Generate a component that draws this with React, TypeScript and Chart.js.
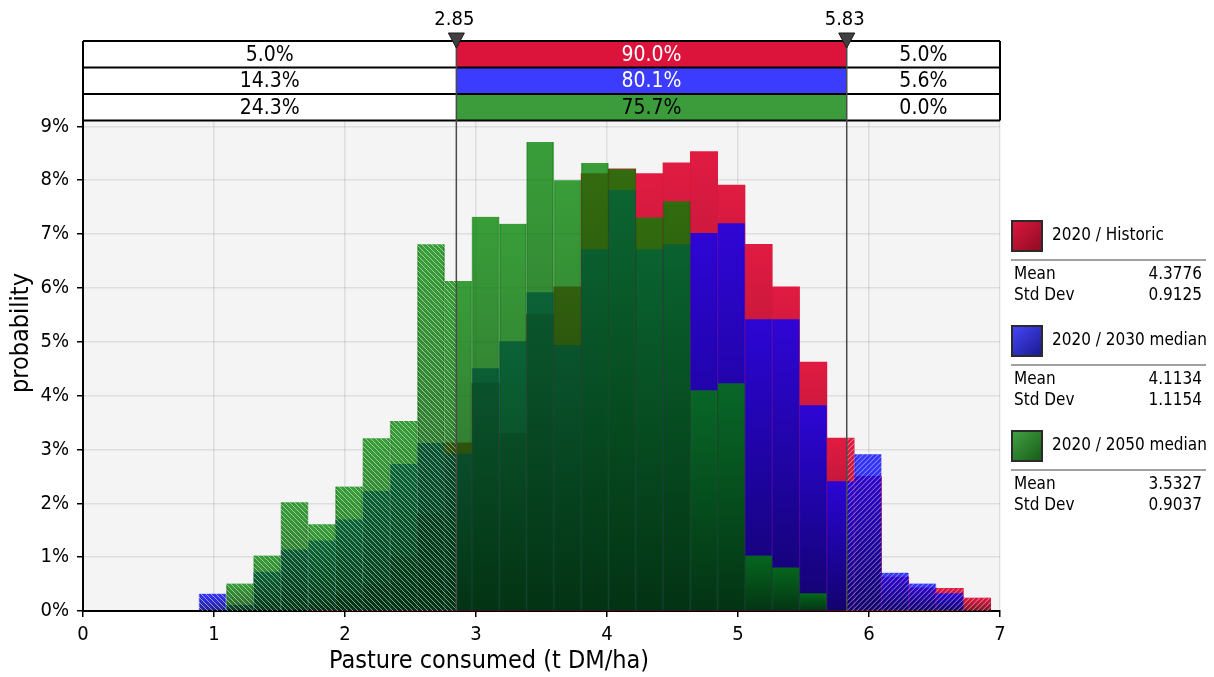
import React, { useEffect, useRef } from 'react';
import { Chart, registerables } from 'chart.js';

Chart.register(...registerables);

// ---- data ----
const binEdges = [
  0.885, 1.093, 1.302, 1.510, 1.719, 1.927, 2.135, 2.344, 2.552, 2.761,
  2.969, 3.177, 3.386, 3.594, 3.803, 4.011, 4.219, 4.428, 4.636, 4.845,
  5.053, 5.261, 5.470, 5.678, 5.887, 6.095, 6.303, 6.512, 6.720, 6.929,
];
// probability (%) per bin
const historic = [
  null, null, null, null, 0.1, 0.3, 0.5, 1.0, 1.8, 3.12,
  4.23, 3.30, 5.51, 6.02, 8.12, 8.21, 8.12, 8.32, 8.53, 7.91,
  6.81, 6.02, 4.62, 3.21, 2.50, 0.63, 0.43, 0.42, 0.24,
];
const median2030 = [
  0.32, 0.11, 0.73, 1.14, 1.31, 1.70, 2.23, 2.73, 3.12, 2.92,
  4.51, 5.01, 5.92, 4.94, 6.72, 7.82, 6.72, 6.81, 7.02, 7.20,
  5.42, 5.42, 3.82, 2.41, 2.91, 0.71, 0.51, 0.33, null,
];
const median2050 = [
  null, 0.51, 1.03, 2.02, 1.61, 2.31, 3.21, 3.53, 6.81, 6.13,
  7.32, 7.19, 8.71, 8.00, 8.32, 8.21, 7.31, 7.61, 4.10, 4.23,
  1.03, 0.81, 0.33, null, null, null, null, null, null,
];
const thresholds = [2.85, 5.83];
const thresholdLabels = ['2.85', '5.83'];
const leftShares = ['5.0%', '14.3%', '24.3%'];
const midShares = ['90.0%', '80.1%', '75.7%'];
const rightShares = ['5.0%', '5.6%', '0.0%'];
const seriesNames = ['2020 / Historic', '2020 / 2030 median', '2020 / 2050 median'];
const means = ['4.3776', '4.1134', '3.5327'];
const stdDevs = ['0.9125', '1.1154', '0.9037'];
const xTitle = 'Pasture consumed (t DM/ha)';
const yTitle = 'probability';

const FONT = '"DejaVu Sans Condensed", "DejaVu Sans", sans-serif';

const cellFill = ['#dc143c', '#3c3cff', '#3c9c3c'];
const cellText = ['#ffffff', '#ffffff', '#000000'];
const legendGrad = [
  ['#e0183f', '#8c0a22'],
  ['#4848ff', '#18188c'],
  ['#44a444', '#165a16'],
];

const toPoints = (vals: (number | null)[]) =>
  vals.map((v, i) => ({ x: (binEdges[i] + binEdges[i + 1]) / 2, y: v }));

const barGradient = (top: string, bottom: string) => (c: any) => {
  if (!c || c.type !== 'data') return top;
  const chart = c.chart;
  const ys = chart.scales && chart.scales.y;
  const v = c.parsed ? c.parsed.y : null;
  if (!ys || v == null) return top;
  const y0 = ys.getPixelForValue(v);
  const y1 = ys.getPixelForValue(0);
  if (!isFinite(y0) || !isFinite(y1) || y1 - y0 < 0.5) return top;
  const g = chart.ctx.createLinearGradient(0, y0, 0, y1);
  g.addColorStop(0, top);
  g.addColorStop(1, bottom);
  return g;
};

const overlayPlugin = {
  id: 'overlay',
  beforeDraw(chart: any) {
    const { ctx, chartArea: a } = chart;
    ctx.save();
    ctx.fillStyle = '#ffffff';
    ctx.fillRect(0, 0, chart.width, chart.height);
    ctx.fillStyle = '#f4f4f4';
    ctx.fillRect(a.left, a.top, a.right - a.left, a.bottom - a.top);
    ctx.restore();
  },
  afterDatasetsDraw(chart: any) {
    const { ctx, chartArea: a, scales } = chart;
    const x = scales.x;
    const y = scales.y;
    const xl = x.getPixelForValue(thresholds[0]);
    const xr = x.getPixelForValue(thresholds[1]);
    // hatch over tails
    ctx.save();
    ctx.beginPath();
    for (let i = 0; i < binEdges.length - 1; i++) {
      const top = Math.max(historic[i] || 0, median2030[i] || 0, median2050[i] || 0);
      if (top <= 0) continue;
      const x0 = x.getPixelForValue(binEdges[i]);
      const x1 = x.getPixelForValue(binEdges[i + 1]);
      const y0 = y.getPixelForValue(top);
      const y1 = y.getPixelForValue(0);
      ctx.rect(x0, y0, x1 - x0, y1 - y0);
    }
    ctx.clip();
    ctx.strokeStyle = 'rgba(255,255,255,0.5)';
    ctx.lineWidth = 1;
    const H = a.bottom - a.top;
    // left: "\"
    ctx.save();
    ctx.beginPath();
    ctx.rect(a.left, a.top, xl - a.left, H);
    ctx.clip();
    ctx.beginPath();
    for (let k = a.left - H; k < xl + 5; k += 5) {
      ctx.moveTo(k, a.top);
      ctx.lineTo(k + H, a.bottom);
    }
    ctx.stroke();
    ctx.restore();
    // right: "/"
    ctx.save();
    ctx.beginPath();
    ctx.rect(xr, a.top, a.right - xr, H);
    ctx.clip();
    ctx.beginPath();
    for (let k = xr - 5; k < a.right + H; k += 5) {
      ctx.moveTo(k, a.top);
      ctx.lineTo(k - H, a.bottom);
    }
    ctx.stroke();
    ctx.restore();
    ctx.restore();
  },
  afterDraw(chart: any) {
    const { ctx, chartArea: a, scales } = chart;
    const x = scales.x;
    const xl = x.getPixelForValue(thresholds[0]);
    const xr = x.getPixelForValue(thresholds[1]);
    const left = x.getPixelForValue(0);
    const right = x.getPixelForValue(7);
    const rows = [41, 67.5, 94, 120.5];
    ctx.save();
    // table cells
    for (let r = 0; r < 3; r++) {
      ctx.fillStyle = '#ffffff';
      ctx.fillRect(left, rows[r], right - left, rows[r + 1] - rows[r]);
      ctx.fillStyle = cellFill[r];
      ctx.fillRect(xl, rows[r], xr - xl, rows[r + 1] - rows[r]);
      ctx.font = `21px ${FONT}`;
      ctx.textAlign = 'center';
      ctx.textBaseline = 'middle';
      const cy = (rows[r] + rows[r + 1]) / 2 + 1;
      ctx.fillStyle = '#000';
      ctx.fillText(leftShares[r], (left + xl) / 2, cy);
      ctx.fillText(rightShares[r], (xr + right) / 2, cy);
      ctx.fillStyle = cellText[r];
      ctx.fillText(midShares[r], (xl + xr) / 2, cy);
    }
    ctx.strokeStyle = '#000';
    ctx.lineWidth = 2;
    for (const ry of rows) {
      ctx.beginPath();
      ctx.moveTo(left, ry);
      ctx.lineTo(right, ry);
      ctx.stroke();
    }
    ctx.beginPath();
    ctx.moveTo(left, rows[0]);
    ctx.lineTo(left, rows[3]);
    ctx.moveTo(right, rows[0]);
    ctx.lineTo(right, rows[3]);
    ctx.stroke();
    // threshold lines + markers
    [xl, xr].forEach((px, i) => {
      ctx.strokeStyle = '#4a4a4a';
      ctx.lineWidth = 1.5;
      ctx.beginPath();
      ctx.moveTo(px, rows[0]);
      ctx.lineTo(px, a.bottom);
      ctx.stroke();
      ctx.fillStyle = '#404040';
      ctx.strokeStyle = '#1a1a1a';
      ctx.lineWidth = 1;
      ctx.beginPath();
      ctx.moveTo(px - 8, 33);
      ctx.lineTo(px + 8, 33);
      ctx.lineTo(px, 48);
      ctx.closePath();
      ctx.fill();
      ctx.stroke();
      ctx.fillStyle = '#000';
      ctx.font = `20px ${FONT}`;
      ctx.textAlign = 'center';
      ctx.textBaseline = 'middle';
      ctx.fillText(thresholdLabels[i], px - 2, 20);
    });
    // axis titles
    ctx.fillStyle = '#000';
    ctx.font = `25px ${FONT}`;
    ctx.textAlign = 'center';
    ctx.textBaseline = 'middle';
    ctx.fillText(xTitle, 489, 661);
    ctx.save();
    ctx.translate(21, 333);
    ctx.rotate(-Math.PI / 2);
    ctx.fillText(yTitle, 0, 0);
    ctx.restore();
    // legend
    for (let s = 0; s < 3; s++) {
      const base = 220 + s * 105;
      const g = ctx.createLinearGradient(1011, base, 1042, base + 32);
      g.addColorStop(0, legendGrad[s][0]);
      g.addColorStop(1, legendGrad[s][1]);
      ctx.fillStyle = g;
      ctx.fillRect(1012, base + 1, 30, 30);
      ctx.strokeStyle = '#2a2a2a';
      ctx.lineWidth = 2;
      ctx.strokeRect(1012, base + 1, 30, 30);
      ctx.fillStyle = '#000';
      ctx.font = `17px ${FONT}`;
      ctx.textAlign = 'left';
      ctx.textBaseline = 'middle';
      ctx.fillText(seriesNames[s], 1052, base + 16);
      ctx.strokeStyle = '#a0a0a0';
      ctx.lineWidth = 2;
      ctx.beginPath();
      ctx.moveTo(1011, base + 40);
      ctx.lineTo(1206, base + 40);
      ctx.stroke();
      ctx.fillStyle = '#000';
      ctx.fillText('Mean', 1014, base + 55);
      ctx.fillText('Std Dev', 1014, base + 76);
      ctx.textAlign = 'right';
      ctx.fillText(means[s], 1202, base + 55);
      ctx.fillText(stdDevs[s], 1202, base + 76);
    }
    ctx.restore();
  },
};

export default function App() {
  const ref = useRef<HTMLCanvasElement | null>(null);
  useEffect(() => {
    document.body.style.margin = '0';
    const canvas = ref.current;
    if (!canvas) return;
    const tickFont = { family: FONT, size: 20 };
    const chart = new Chart(canvas, {
      type: 'bar',
      data: {
        datasets: [
          {
            label: seriesNames[2],
            data: toPoints(median2050) as any,
            order: 1,
            backgroundColor: barGradient('rgba(0,132,0,0.77)', 'rgba(0,62,0,0.82)'),
            borderColor: 'rgba(0,100,0,0.5)',
            borderWidth: { left: 1, right: 1, top: 0, bottom: 0 } as any,
            borderSkipped: false,
            inflateAmount: 0.4,
          },
          {
            label: seriesNames[1],
            data: toPoints(median2030) as any,
            order: 2,
            backgroundColor: barGradient('rgba(0,0,255,0.78)', 'rgba(0,0,120,0.85)'),
            borderColor: 'rgba(0,0,255,0.4)',
            borderWidth: { left: 1, right: 1, top: 0, bottom: 0 } as any,
            borderSkipped: false,
            inflateAmount: 0.4,
          },
          {
            label: seriesNames[0],
            data: toPoints(historic) as any,
            order: 3,
            backgroundColor: barGradient('rgba(224,20,60,0.97)', 'rgba(120,8,32,0.97)'),
            borderWidth: 0,
            inflateAmount: 0.4,
          },
        ],
      },
      options: {
        responsive: false,
        animation: false,
        events: [],
        layout: { padding: { top: 121, right: 214, left: 0, bottom: 0 } },
        datasets: {
          bar: { grouped: false, barPercentage: 1, categoryPercentage: 1 } as any,
        },
        plugins: { legend: { display: false }, tooltip: { enabled: false } },
        scales: {
          x: {
            type: 'linear',
            min: 0,
            max: 7,
            offset: false,
            z: 1,
            ticks: { stepSize: 1, font: tickFont, color: '#000', padding: 6, maxRotation: 0 },
            grid: { offset: false, color: 'rgba(0,0,0,0.09)', lineWidth: 1.5, tickLength: 6, tickColor: '#000' },
            border: { color: '#000', width: 2 },
            afterFit: (s: any) => { s.height = 66; },
          },
          y: {
            type: 'linear',
            min: 0,
            max: 9.1,
            z: 1,
            ticks: {
              stepSize: 1,
              includeBounds: false,
              font: tickFont,
              color: '#000',
              padding: 8,
              callback: (v: any) => `${v}%`,
            },
            grid: { color: 'rgba(0,0,0,0.09)', lineWidth: 1.5, tickLength: 6, tickColor: '#000' },
            border: { color: '#000', width: 2 },
            afterFit: (s: any) => { s.width = 83; },
          },
        },
      } as any,
      plugins: [overlayPlugin],
    });
    return () => chart.destroy();
  }, []);
  return (
    <div style={{ width: 1214, height: 677 }}>
      <canvas ref={ref} width={1214} height={677} style={{ display: 'block' }} />
    </div>
  );
}
